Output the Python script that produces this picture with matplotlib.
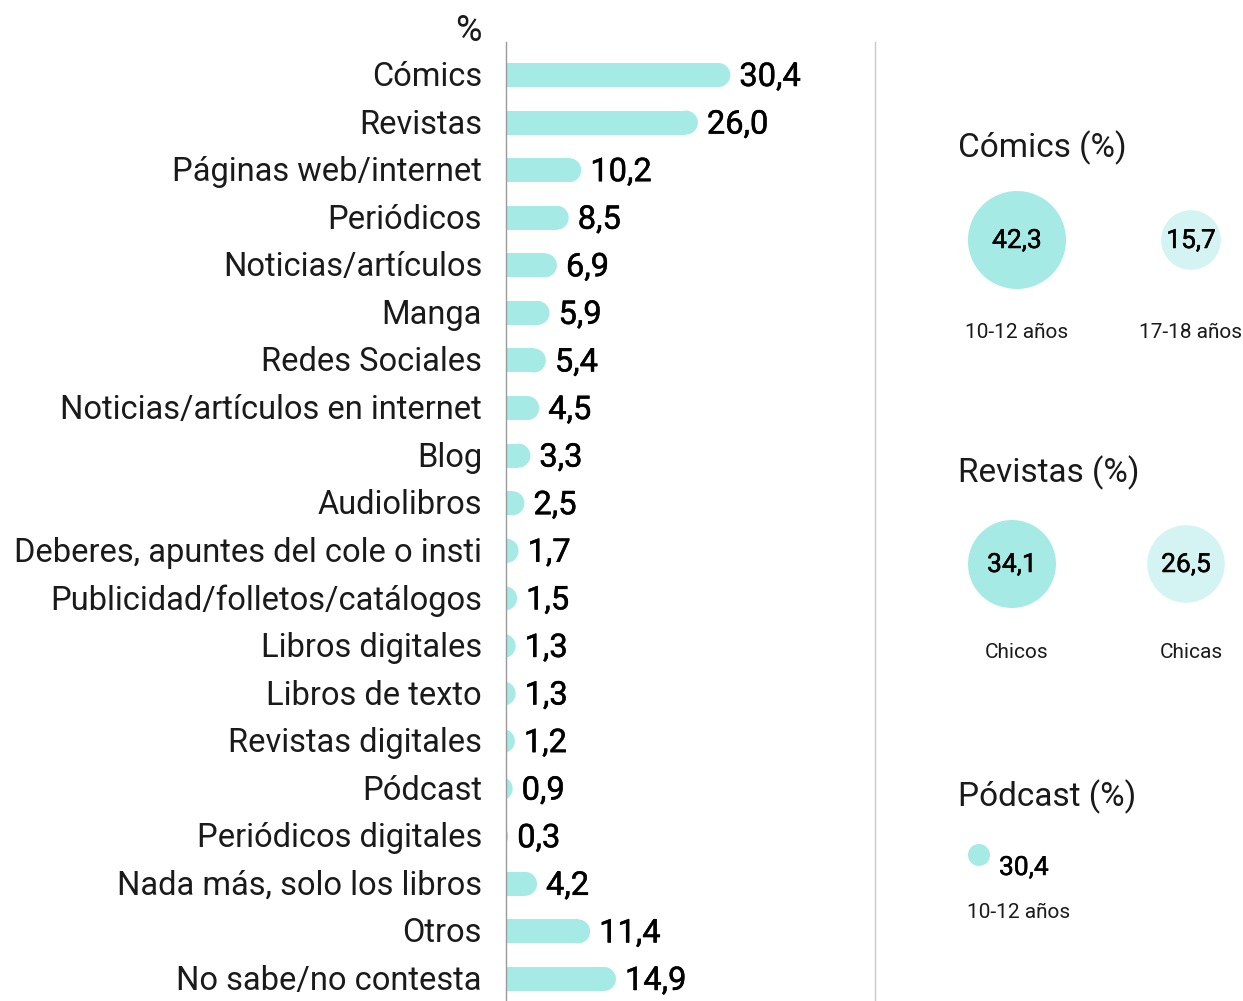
import matplotlib.pyplot as plt
import matplotlib.patheffects as pe
from matplotlib.patches import Rectangle, Ellipse

categorias = ['Cómics', 'Revistas', 'Páginas web/internet', 'Periódicos', 'Noticias/artículos',
              'Manga', 'Redes Sociales', 'Noticias/artículos en internet', 'Blog', 'Audiolibros',
              'Deberes, apuntes del cole o insti', 'Publicidad/folletos/catálogos',
              'Libros digitales', 'Libros de texto', 'Revistas digitales', 'Pódcast',
              'Periódicos digitales', 'Nada más, solo los libros', 'Otros', 'No sabe/no contesta']
valores = [30.4, 26.0, 10.2, 8.5, 6.9, 5.9, 5.4, 4.5, 3.3, 2.5, 1.7, 1.5, 1.3, 1.3, 1.2, 0.9,
           0.3, 4.2, 11.4, 14.9]

comics_grupos = ['10-12 años', '17-18 años']
comics_valores = [42.3, 15.7]
revistas_grupos = ['Chicos', 'Chicas']
revistas_valores = [34.1, 26.5]
podcast_grupo = '10-12 años'
podcast_valor = 30.4

CIAN = '#a5eae5'
CIAN_CLARO = '#d3f4f2'
GRIS = '#9a9a9a'
TXT = '#1a1a1a'
plt.rcParams['font.family'] = ['Roboto', 'DejaVu Sans']
# un poco mas de grosor para las cifras (peso "medium")
medio = [pe.withStroke(linewidth=0.35, foreground='#000000')]

W, H = 1243, 1001
fig = plt.figure(figsize=(W / 100, H / 100), dpi=100)

def fmt(v):
    return f'{v:.1f}'.replace('.', ',')

# Barras redondeadas
ax = fig.add_axes([506 / W, 0, (875 - 506) / W, 1 - 42 / H])
ax.set_xlim(0, 50)
paso = 47.58
ax.set_ylim(19 + 22 / paso, -33 / paso)
px_unidad = (875 - 506) / 50
h = 24 / paso
r = 12 / px_unidad
dy = 2 / paso
for i, (c, v) in enumerate(zip(categorias, valores)):
    ax.add_patch(Rectangle((-2 * r, i - h / 2), v + r, h, color=CIAN, lw=0))
    ax.add_patch(Ellipse((v - r, i), 2 * r, h, color=CIAN, lw=0))
    ax.text(v + 9 / px_unidad, i + dy, fmt(v), va='center', ha='left', fontsize=23.5,
            color='#000000', path_effects=medio)
    ax.text(-24 / px_unidad, i + dy, c, va='center', ha='right', fontsize=23.5,
            color=TXT, clip_on=False)
ax.text(-24 / px_unidad, -0.93, '%', va='center', ha='right', fontsize=26, color=TXT)
for s in ['top', 'right', 'bottom']:
    ax.spines[s].set_visible(False)
ax.spines['left'].set_color(GRIS)
ax.spines['left'].set_linewidth(1)
ax.spines['left'].set_zorder(5)
ax.set_xticks([])
ax.set_yticks([])
ax.patch.set_alpha(0)

# Separador y panel derecho (en coordenadas de pixel)
ax2 = fig.add_axes([0, 0, 1, 1])
ax2.set_xlim(0, W)
ax2.set_ylim(H, 0)
ax2.axis('off')
ax2.patch.set_alpha(0)
ax2.plot([875, 875], [42, H], color='#c8c8c8', lw=1)

k = (2 * 49 * 0.72) ** 2 / comics_valores[0]
xs = [1017, 1191]

ax2.text(958, 148, 'Cómics (%)', fontsize=24, va='center', ha='left', color=TXT)
for x, g, v, col in zip(xs, comics_grupos, comics_valores, [CIAN, CIAN_CLARO]):
    ax2.scatter([x], [240], s=k * v, color=col, edgecolors='none')
    ax2.text(x, 241, fmt(v), fontsize=19, ha='center', va='center', color='#000000',
             path_effects=medio)
    ax2.text(x, 333, g, fontsize=15, ha='center', va='center', color=TXT)

ax2.text(958, 473, 'Revistas (%)', fontsize=24, va='center', ha='left', color=TXT)
for x, g, v, col in zip([1012, 1186], revistas_grupos, revistas_valores, [CIAN, CIAN_CLARO]):
    ax2.scatter([x], [564], s=k * v, color=col, edgecolors='none')
    ax2.text(x, 565, fmt(v), fontsize=19, ha='center', va='center', color='#000000',
             path_effects=medio)
for x, g in zip(xs, revistas_grupos):
    ax2.text(x, 653, g, fontsize=15, ha='center', va='center', color=TXT)

ax2.text(958, 797, 'Pódcast (%)', fontsize=24, va='center', ha='left', color=TXT)
ax2.scatter([979], [855], s=(2 * 11 * 0.72) ** 2, color=CIAN, edgecolors='none')
ax2.text(999, 868, fmt(podcast_valor), fontsize=19, ha='left',
         va='center', color='#000000', path_effects=medio)
ax2.text(967, 913, podcast_grupo, fontsize=15, ha='left', va='center', color=TXT)

fig.savefig('out.png', dpi=100)
